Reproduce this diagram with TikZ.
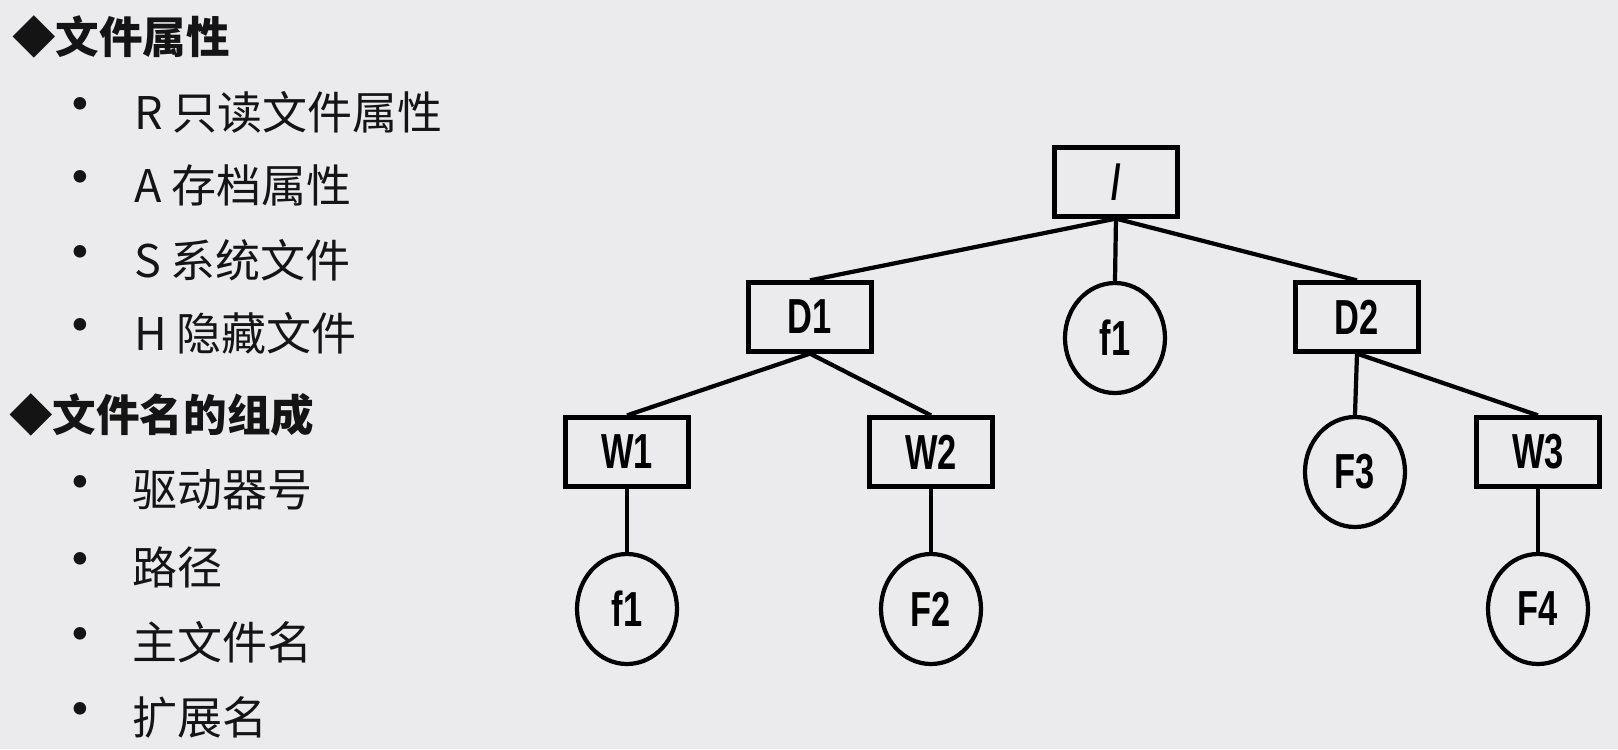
\documentclass[tikz,border=0pt]{standalone}
\usepackage{fontspec}
\usepackage{xcolor}
\usetikzlibrary{shapes.geometric}
\newfontfamily\cjk{Noto Sans CJK SC}
\newfontfamily\treefont[FakeStretch=0.7]{Liberation Sans}
\definecolor{bgcol}{RGB}{235,235,237}
\definecolor{txtcol}{RGB}{20,20,20}

\begin{document}
\begin{tikzpicture}[
        line width=1.2pt,
        dirbox/.style={shape=rectangle,draw=black,minimum width=1.23cm,minimum height=0.69cm,inner sep=0pt,font=\treefont\bfseries\fontsize{14pt}{16pt}\selectfont},
        filenode/.style={shape=ellipse,draw=black,minimum width=1.0cm,minimum height=1.1cm,inner sep=0pt,font=\treefont\bfseries\fontsize{14pt}{16pt}\selectfont},
        heading/.style={anchor=west,inner sep=0pt,text=txtcol,font=\cjk\bfseries\fontsize{12.4pt}{14pt}\selectfont},
        listitem/.style={anchor=west,inner sep=0pt,text=txtcol,font=\cjk\fontsize{12.8pt}{15pt}\selectfont},
        bulletmark/.style={inner sep=0pt,text=txtcol,font=\cjk\fontsize{17pt}{19pt}\selectfont}
    ]
            \useasboundingbox (0,0) rectangle (16.18,7.49);
            \fill[bgcol] (0,0) rectangle (16.18,7.49);

            % left text
            \node[heading] (h1) at (0.10,7.12) {◆文件属性};
            \node[bulletmark] (b1) at (0.80,6.37) {•};
            \node[listitem] (i1) at (1.32,6.37) {R 只读文件属性};
            \node[bulletmark] (b2) at (0.80,5.64) {•};
            \node[listitem] (i2) at (1.32,5.64) {A 存档属性};
            \node[bulletmark] (b3) at (0.80,4.89) {•};
            \node[listitem] (i3) at (1.32,4.89) {S 系统文件};
            \node[bulletmark] (b4) at (0.80,4.16) {•};
            \node[listitem] (i4) at (1.32,4.16) {H 隐藏文件};

            \node[heading] (h2) at (0.07,3.34) {◆文件名的组成};
            \node[bulletmark] (b5) at (0.80,2.59) {•};
            \node[listitem] (i5) at (1.30,2.59) {驱动器号};
            \node[bulletmark] (b6) at (0.80,1.82) {•};
            \node[listitem] (i6) at (1.30,1.82) {路径};
            \node[bulletmark] (b7) at (0.80,1.07) {•};
            \node[listitem] (i7) at (1.30,1.07) {主文件名};
            \node[bulletmark] (b8) at (0.80,0.32) {•};
            \node[listitem] (i8) at (1.30,0.32) {扩展名};

            % tree
            \node[dirbox] (root) at (11.16,5.67) {/};

            \node[dirbox] (d1) at (8.10,4.32) {D1};
            \node[filenode] (f1) at (11.15,4.11) {f1};
            \node[dirbox] (d2) at (13.57,4.32) {D2};

            \node[dirbox] (w1) at (6.27,2.97) {W1};
            \node[dirbox] (w2) at (9.31,2.97) {W2};
            \node[filenode] (f3) at (13.55,2.77) {F3};
            \node[dirbox] (w3) at (15.38,2.97) {W3};

            \node[filenode] (f1w) at (6.27,1.40) {f1};
            \node[filenode] (f2) at (9.31,1.40) {F2};
            \node[filenode] (f4) at (15.38,1.40) {F4};

            \path (root.south) edge (d1.north);
            \path (root.south) edge (f1.north);
            \path (root.south) edge (d2.north);

            \path (d1.south) edge (w1.north);
            \path (d1.south) edge (w2.north);
            \path (d2.south) edge (f3.north);
            \path (d2.south) edge (w3.north);

            \path (w1.south) edge (f1w.north);
            \path (w2.south) edge (f2.north);
            \path (w3.south) edge (f4.north);
        \end{tikzpicture}
\end{document}
